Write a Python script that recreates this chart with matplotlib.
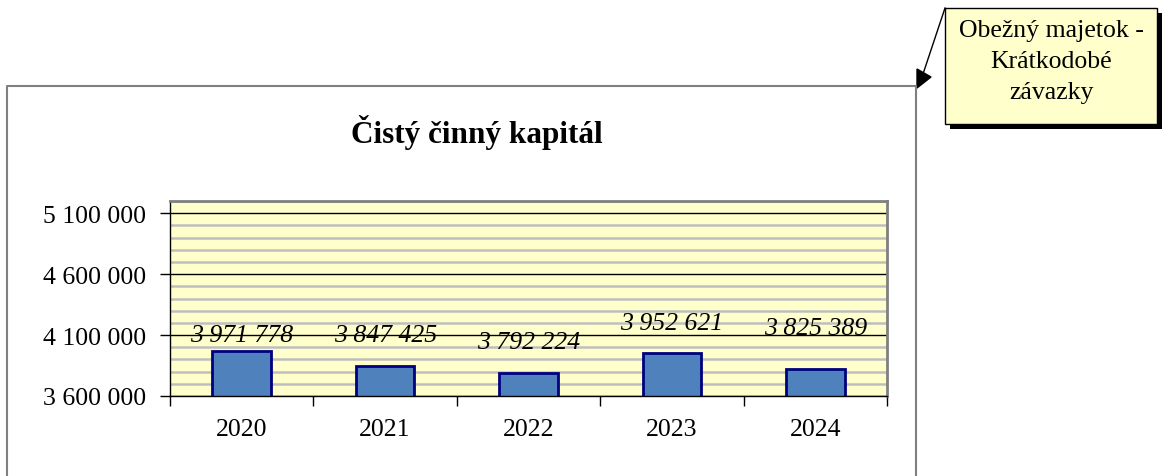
import matplotlib
matplotlib.use("Agg")
import matplotlib.pyplot as plt
from matplotlib.ticker import FixedLocator, MultipleLocator, FuncFormatter
from matplotlib.patches import Rectangle, Polygon
from matplotlib.lines import Line2D

categories = ["2020", "2021", "2022", "2023", "2024"]
values = [3971778, 3847425, 3792224, 3952621, 3825389]
label_offsets_px = [16, 31, 31, 30, 41]
y_ticks = [3600000, 4100000, 4600000, 5100000]
title = "Čistý činný kapitál"
callout_text = "Obežný majetok -\nKrátkodobé\nzávazky"

W, H = 1165, 477
fig = plt.figure(figsize=(W / 100, H / 100), dpi=100)
serif = ["Liberation Serif", "DejaVu Serif"]
plt.rcParams["font.family"] = serif
FS = 18.5

def fx(px):
    return px / W

def fy(py):
    return 1 - py / H

# outer chart frame (top, left, right)
frame_col = "#7f7f7f"
fig.add_artist(Line2D([fx(7), fx(7), fx(916), fx(916)], [fy(477), fy(87), fy(87), fy(477)],
                      transform=fig.transFigure, color=frame_col, lw=1.5))

ax = fig.add_axes([fx(170), fy(397), fx(887 - 170), (397 - 202) / H])
ax.set_facecolor("#FFFFCC")
ax.set_ylim(3600000, 5200000)
ax.set_xlim(-0.5, len(categories) - 0.5)
ax.yaxis.set_major_locator(FixedLocator(y_ticks))
ax.yaxis.set_minor_locator(MultipleLocator(100000))
ax.yaxis.set_major_formatter(FuncFormatter(lambda v, p: f"{int(round(v)):,}".replace(",", " ")))
ax.grid(which="minor", axis="y", color="#BEBEBE", lw=1.8, zorder=0)
ax.grid(which="major", axis="y", color="black", lw=1.0, zorder=0.5)
ax.set_axisbelow(True)

x = list(range(len(categories)))
ax.bar(x, values, width=0.41, bottom=0, color="#4F81BD", edgecolor="#000080", lw=2, zorder=2)

for i, v in enumerate(values):
    ax.annotate(f"{v:,}".replace(",", " "), xy=(i, v), xytext=(0, label_offsets_px[i]),
                textcoords="offset pixels", ha="center", va="center",
                fontsize=FS, fontstyle="italic", zorder=3)

ax.set_xticks([i - 0.5 for i in range(len(categories) + 1)])
ax.set_xticklabels([])
ax.set_xticks(x, minor=True)
ax.set_xticklabels(categories, minor=True, fontsize=FS)
ax.tick_params(axis="x", which="major", length=7, width=1, direction="out")
ax.tick_params(axis="x", which="minor", length=0, pad=16)
ax.tick_params(axis="y", which="major", length=7, width=1, direction="out", labelsize=FS, pad=10)
ax.tick_params(axis="y", which="minor", length=0)

for s in ["top", "right"]:
    ax.spines[s].set_color("#808080")
    ax.spines[s].set_linewidth(2)
for s in ["left", "bottom"]:
    ax.spines[s].set_color("black")
    ax.spines[s].set_linewidth(1)

fig.text(fx(477), fy(133), title, ha="center", va="center", fontsize=22.5, fontweight="bold")

# callout box
shadow = Rectangle((fx(950), fy(130)), fx(212), (130 - 14) / H, transform=fig.transFigure,
                   facecolor="black", edgecolor="none")
box = Rectangle((fx(945), fy(125)), fx(212), (125 - 9) / H, transform=fig.transFigure,
                facecolor="#FFFFCC", edgecolor="black", lw=1)
fig.add_artist(shadow)
fig.add_artist(box)
fig.text(fx(1051), fy(62), callout_text, ha="center", va="center", fontsize=FS, linespacing=1.55)
fig.add_artist(Line2D([fx(945), fx(922)], [fy(9), fy(78)], transform=fig.transFigure, color="black", lw=1))
fig.add_artist(Polygon([[fx(917), fy(89)], [fx(917), fy(70)], [fx(931), fy(78)]],
                       closed=True, transform=fig.transFigure, facecolor="black", edgecolor="black"))

fig.savefig("out.png", dpi=100)
